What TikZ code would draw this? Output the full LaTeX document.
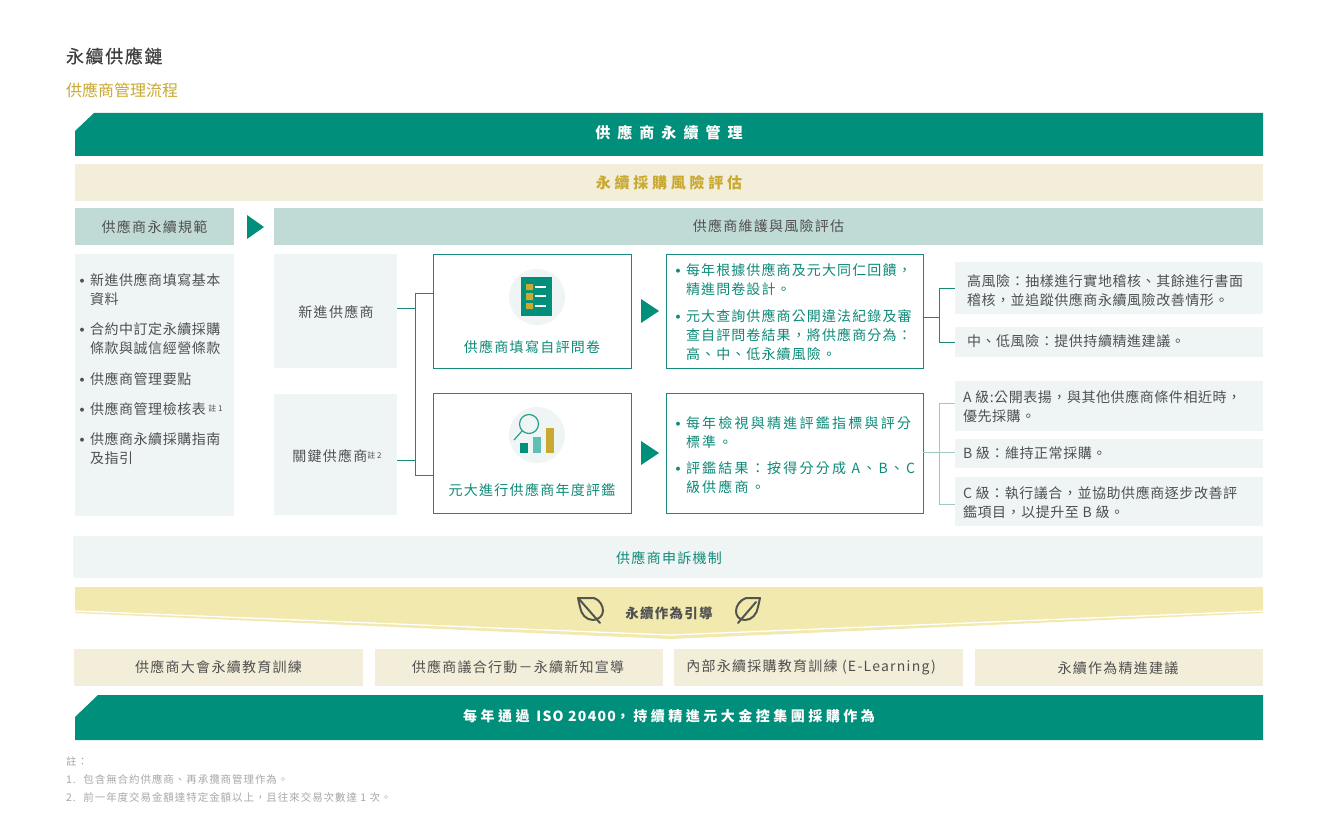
\documentclass[tikz,border=0pt]{standalone}
\usepackage{fontspec}
\setmainfont{Noto Sans CJK TC}
\newfontfamily\fA{Noto Sans CJK TC}
\newfontfamily\fB[LetterSpace=4]{Noto Sans CJK TC}
\newfontfamily\fC[LetterSpace=9]{Noto Sans CJK TC}
\newfontfamily\fG[LetterSpace=8]{Noto Sans CJK TC}
\newfontfamily\fD[LetterSpace=16]{Noto Sans CJK TC}
\newfontfamily\fE[LetterSpace=25]{Noto Sans CJK TC}
\newfontfamily\fF[LetterSpace=47]{Noto Sans CJK TC}
\newfontfamily\fT[LetterSpace=9,FakeBold=0.5]{Noto Sans CJK TC}
\newcommand{\qc}{^^^^ff0c}
\newcommand{\qk}{^^^^ff1a}
\newcommand{\qd}{^^^^ff0d}
\definecolor{dgreen}{HTML}{008F7A}
\definecolor{tgreen}{HTML}{0E8A78}
\definecolor{linegreen}{HTML}{17897A}
\definecolor{cream}{HTML}{F3EED9}
\definecolor{teal}{HTML}{C0DAD5}
\definecolor{pale}{HTML}{EFF5F5}
\definecolor{ylw}{HTML}{F1E9AD}
\definecolor{gold}{HTML}{C9A92F}
\definecolor{txt}{HTML}{505050}
\definecolor{note}{HTML}{A8A8A8}
\definecolor{midteal}{HTML}{5DC0B2}
\definecolor{leafc}{HTML}{555550}
\newcommand{\sz}[2]{\fontsize{#1}{#2}\selectfont}
\newcommand{\rbox}[6][]{\node[boxn,#1,minimum width={#4-#2},minimum height={#5-#3}] (#6) at (#2,#3) {};}
\tikzset{
  x=1pt,y=-1pt,
  boxn/.style={anchor=north west,inner sep=0pt,outer sep=0pt,draw=none},
  lbl/.style={inner sep=0pt,outer sep=0pt,align=left,text=txt},
  body/.style={lbl,anchor=west,font=\fB\sz{14}{19}},
  gbody/.style={lbl,anchor=west,text=tgreen,font=\fD\sz{14}{19.2}},
  gbodyb/.style={lbl,anchor=west,text=tgreen,font=\fG\sz{14}{19.2}},
  ctr/.style={lbl,anchor=center,align=center,font=\fC\sz{14}{19}},
  bul/.style={lbl,anchor=center,font=\fA\bfseries\sz{14}{14},yshift=-3pt},
  outl/.style={draw=linegreen,line width=1pt,fill=white},
  conn/.style={draw=linegreen,line width=1pt},
  connl/.style={draw=teal!80!linegreen,line width=1pt},
  tri/.style={fill=dgreen,draw=none},
  leaf/.style={draw=leafc,line width=2pt,line join=round,line cap=round},
}
\begin{document}
\begin{tikzpicture}
\useasboundingbox[fill=white] (0,0) rectangle (1332,813);

% titles
\node[lbl,anchor=west,font=\fT\sz{18}{18},text=black!75] (title) at (66,56) {永續供應鏈};
\node[lbl,anchor=west,font=\fA\sz{16}{16},text=gold] (subtitle) at (66,90) {供應商管理流程};

% top banners
\fill[dgreen] (75,131) -- (94,113) -- (1263,113) -- (1263,156) -- (75,156) -- cycle;
\node[lbl,anchor=center,font=\fF\bfseries\sz{15}{15},text=white] (topt) at (669,133) {供應商永續管理};
\rbox[fill=cream]{75}{164}{1263}{201}{riskband}
\node[lbl,anchor=center,font=\fE\bfseries\sz{15}{15},text=gold] (riskt) at (669,183) {永續採購風險評估};

% headers
\rbox[fill=teal]{75}{208}{234}{245}{hl}
\node[ctr] (hlt) at (154.5,227) {供應商永續規範};
\path[tri] (247,215) -- (264,227) -- (247,239) -- cycle;
\rbox[fill=teal]{274}{208}{1263}{245}{hr}
\node[ctr] (hrt) at (768.5,226) {供應商維護與風險評估};

% left panel
\rbox[fill=pale]{75}{254}{234}{516}{lp}
\node[bul] (b1) at (82,280) {・};
\node[body] (l1) at (90,289.5) {新進供應商填寫基本\\資料};
\node[bul] (b2) at (82,329) {・};
\node[body] (l2) at (90,338.5) {合約中訂定永續採購\\條款與誠信經營條款};
\node[bul] (b3) at (82,379) {・};
\node[body] (l3) at (90,379) {供應商管理要點};
\node[bul] (b4) at (82,409) {・};
\node[body] (l4) at (90,409) {供應商管理檢核表\,\raisebox{3pt}{\fA\sz{8}{8}註 1}};
\node[bul] (b5) at (82,439) {・};
\node[body] (l5) at (90,448.5) {供應商永續採購指南\\及指引};

% supplier type boxes
\rbox[fill=pale]{274}{254}{397}{368}{newsup}
\node[ctr] (newt) at (336,312) {新進供應商};
\rbox[fill=pale]{274}{394}{397}{515}{keysup}
\node[ctr] (keyt) at (337,456) {關鍵供應商\raisebox{3pt}{\fA\sz{8}{8}註 2}};

% middle boxes
\rbox[outl]{433}{254}{631}{368}{q1}
\rbox[outl]{433}{393}{631}{513}{q2}
\node[lbl,anchor=center,font=\fC\sz{14}{14},text=tgreen] (q1t) at (532,347) {供應商填寫自評問卷};
\node[lbl,anchor=center,font=\fC\sz{14}{14},text=tgreen] (q2t) at (532,490) {元大進行供應商年度評鑑};

% icon 1
\fill[pale] (537,297) circle (28);
\fill[dgreen] (521,277) rectangle (552,316);
\fill[gold] (526,284) rectangle (533,290) (526,293) rectangle (533,300) (526,303) rectangle (533,309);
\draw[white,line width=1.6pt] (535,287) -- (546,287) (535,296) -- (546,296) (535,306) -- (546,306);
% icon 2
\fill[pale] (537,435) circle (28);
\draw[dgreen!85!white,line width=1.2pt] (529,424) circle (9.5) (522,431) -- (514,440);
\fill[dgreen] (520,443) rectangle (528,453);
\fill[midteal] (533,437) rectangle (541,453);
\fill[gold] (546,428) rectangle (554,453);

% triangles
\path[tri] (641,299) -- (659,311) -- (641,323) -- cycle;
\path[tri] (641,441) -- (659,453) -- (641,465) -- cycle;

% right-of-triangle boxes
\rbox[outl]{666}{254}{923}{368}{d1}
\rbox[outl]{666}{393}{923}{513}{d2}
\node[bul,text=tgreen] (g1b) at (678,270) {・};
\node[gbodyb] (g1) at (686,280) {每年根據供應商及元大同仁回饋\qc\\精進問卷設計。};
\node[bul,text=tgreen] (g2b) at (678,316) {・};
\node[gbodyb] (g2) at (686,335) {元大查詢供應商公開違法紀錄及審\\查自評問卷結果\qc 將供應商分為\qk\\高、中、低永續風險。};
\node[bul,text=tgreen] (g3b) at (678,423) {・};
\node[gbody] (g3) at (686,432.5) {每年檢視與精進評鑑指標與評分\\標準。};
\node[bul,text=tgreen] (g4b) at (678,468) {・};
\node[gbody] (g4) at (686,477.5) {評鑑結果\qk 按得分分成 A、B、C\\級供應商。};

% result boxes
\rbox[fill=pale]{955}{262}{1263}{314}{r1}
\rbox[fill=pale]{955}{327}{1263}{357}{r2}
\rbox[fill=pale]{955}{381}{1263}{431}{r3}
\rbox[fill=pale]{955}{439}{1263}{468}{r4}
\rbox[fill=pale]{955}{477}{1263}{526}{r5}
\node[body] (r1t) at (967,290.5) {高風險\qk 抽樣進行實地稽核、其餘進行書面\\稽核\qc 並追蹤供應商永續風險改善情形。};
\node[body] (r2t) at (967,341) {中、低風險\qk 提供持續精進建議。};
\node[body] (r3t) at (963,406.5) {A 級:公開表揚\qc 與其他供應商條件相近時\qc\\優先採購。};
\node[body] (r4t) at (963,453) {B 級\qk 維持正常採購。};
\node[body] (r5t) at (963,502.5) {C 級\qk 執行議合\qc 並協助供應商逐步改善評\\鑑項目\qc 以提升至 B 級。};

% connectors
\coordinate (ja) at (415,308);
\coordinate (jb) at (415,460);
\coordinate (jc) at (415,293);
\coordinate (jd) at (415,475);
\draw[conn] (newsup.east |- ja) -- (ja);
\draw[conn] (keysup.east |- jb) -- (jb);
\draw[conn] (q1.west |- jc) -- (jc) -- (jd) -- (q2.west |- jd);
\coordinate (je) at (939,317);
\coordinate (jf) at (939,288);
\coordinate (jg) at (939,342);
\draw[conn] (d1.east |- je) -- (je);
\draw[conn] (r1.west |- jf) -- (jf) -- (jg) -- (r2.west |- jg);
\coordinate (jh) at (939,403);
\coordinate (ji) at (939,504);
\coordinate (jj) at (939,452);
\draw[connl] (r3.west |- jh) -- (jh) -- (ji) -- (r5.west |- ji);
\draw[connl] (d2.east |- jj) -- (r4.west |- jj);

% appeal
\rbox[fill=pale]{73}{536}{1263}{578}{appeal}
\node[lbl,anchor=center,font=\fC\sz{14}{14},text=tgreen] (appealt) at (669,558) {供應商申訴機制};

% yellow funnel
\fill[ylw] (75,587) -- (1263,587) -- (1263,613) -- (670,639) -- (75,613) -- cycle;
\draw[white,line width=1.3pt] (75,611) -- (670,635) -- (1263,611);
\node[lbl,anchor=center,font=\fC\sz{13.5}{14}\bfseries,text=txt] (guide) at (669,613) {永續作為引導};
% leaves
\draw[leaf] (578,598) -- (594,598) .. controls (600,600) and (603,606) .. (603,611) .. controls (603,616) and (598,620) .. (593,620) .. controls (586,620) and (581,614) .. (580,607) -- cycle;
\draw[leaf] (579,599) -- (600,623);
\draw[leaf] (760,598) -- (746,598) .. controls (740,600) and (736,606) .. (736,611) .. controls (736,616) and (739,620) .. (745,620) .. controls (752,620) and (757,614) .. (758,607) -- cycle;
\draw[leaf] (738,623) -- (756,602);

% bottom boxes
\rbox[fill=cream]{74}{649}{363}{686}{t1}
\rbox[fill=cream]{375}{649}{663}{686}{t2}
\rbox[fill=cream]{674}{649}{963}{686}{t3}
\rbox[fill=cream]{975}{649}{1263}{686}{t4}
\node[ctr] (t1t) at (218.5,667.5) {供應商大會永續教育訓練};
\node[ctr] (t2t) at (518,667.5) {供應商議合行動\qd 永續新知宣導};
\node[ctr] (t3t) at (811,667.5) {內部永續採購教育訓練 (E-Learning)};
\node[ctr] (t4t) at (1118,668.5) {永續作為精進建議};

% bottom banner
\fill[dgreen] (75,717) -- (98,695) -- (1263,695) -- (1263,740) -- (75,740) -- cycle;
\node[lbl,anchor=center,font=\fE\bfseries\sz{14}{14},text=white] (bott) at (669,716) {每年通過 {\fC\bfseries ISO 20400}\qc 持續精進元大金控集團採購作為};

% notes
\node[lbl,anchor=west,font=\fC\sz{10.5}{10},text=note] (n0) at (66,761) {註\qk};
\node[lbl,anchor=west,font=\fC\sz{10.5}{10},text=note] (n1) at (66,779) {1. \ 包含無合約供應商、再承攬商管理作為。};
\node[lbl,anchor=west,font=\fC\sz{10.5}{10},text=note] (n2) at (66,797) {2. \ 前一年度交易金額達特定金額以上\qc 且往來交易次數達 1 次。};
\end{tikzpicture}
\end{document}
